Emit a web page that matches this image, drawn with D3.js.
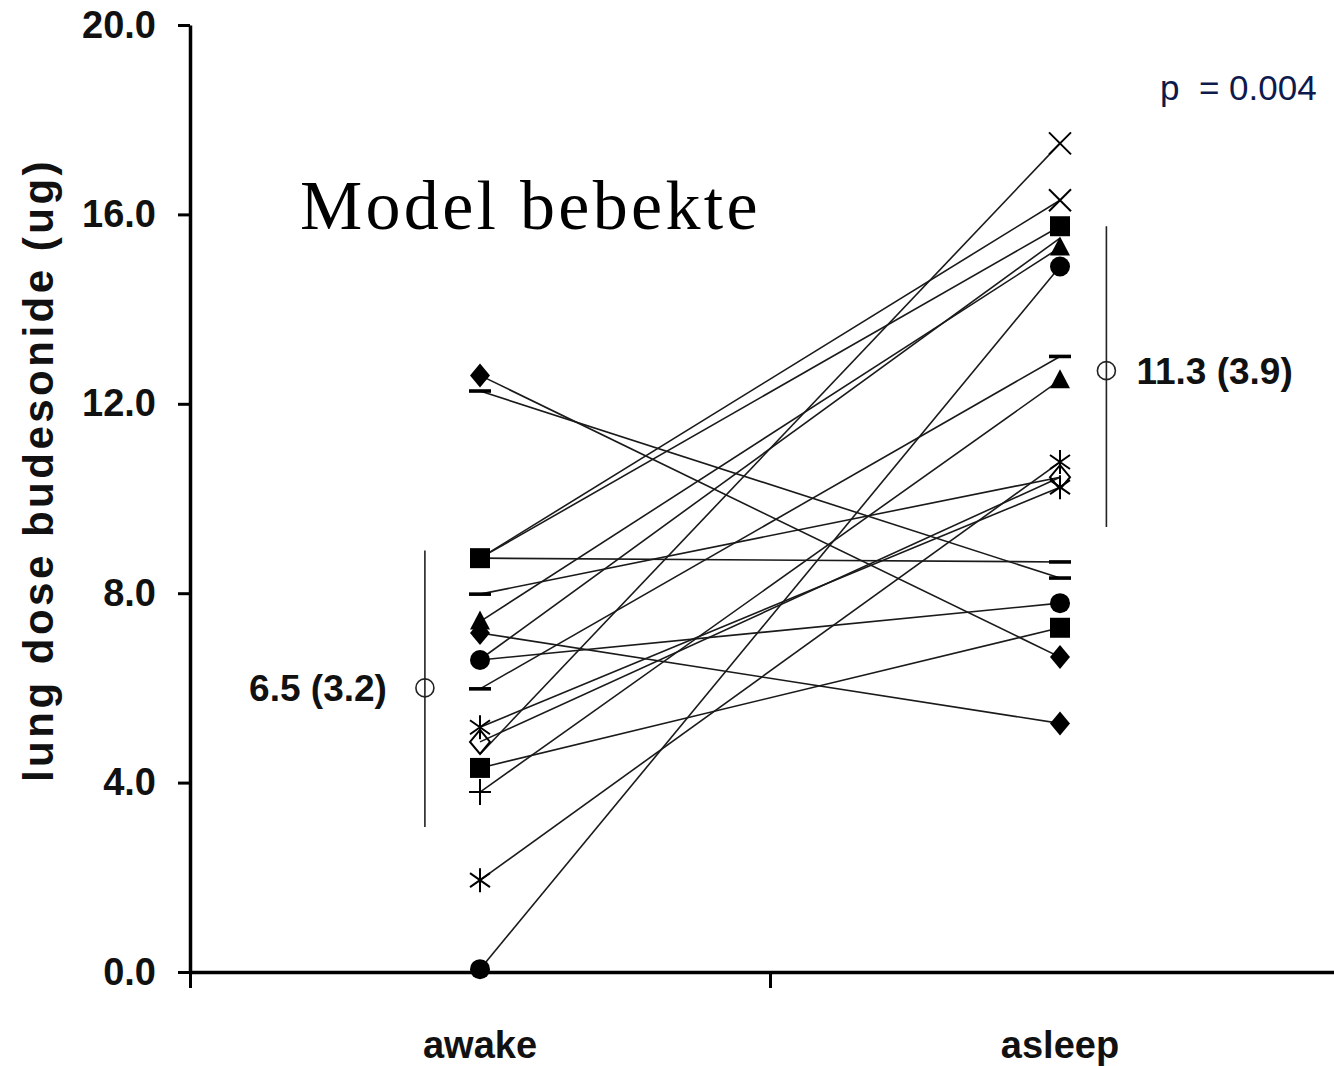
<!DOCTYPE html>
<html>
<head>
<meta charset="utf-8">
<script src="https://cdn.jsdelivr.net/npm/d3@7"></script>
<style>
  body { margin: 0; background: #fff; }
  svg { display: block; }
  text { font-family: "Liberation Sans", Arial, sans-serif; }
</style>
</head>
<body>
<div id="chart"></div>
<script>
const width = 1334;
const height = 1066;

// conditions on the x axis
const conditions = ['awake', 'asleep'];

// one entry per subject: value awake, value asleep, and the marker drawn at each end
const awakeVals  = [12.6, 12.27, 8.74, 8.74, 8.74, 7.98, 7.4, 7.16, 6.59, 6.6, 5.98, 5.17, 4.86, 4.6, 4.31, 3.8, 1.94, 0.06];
const asleepVals = [6.65, 8.32, 15.75, 16.3, 8.66, 10.45, 15.3, 5.25, 7.79, 15.5, 13.0, 10.24, 10.45, 17.5, 7.27, 12.5, 10.77, 14.9];
const awakeSym   = ['diamond', 'dash', 'square', 'none', 'none', 'dash', 'triangle', 'diamond', 'circle', 'none', 'dash', 'asterisk', 'odiamond', 'none', 'square', 'plus', 'asterisk', 'circle'];
const asleepSym  = ['diamond', 'dash', 'square', 'cross', 'dash', 'none', 'triangle', 'diamond', 'circle', 'none', 'dash', 'asterisk', 'odiamond', 'cross', 'square', 'triangle', 'asterisk', 'circle'];

// group means with spread bars
const meanVals   = [6.0, 12.7];
const errLow     = [3.06, 9.4];
const errHigh    = [8.9, 15.75];
const meanLabels = ['6.5 (3.2)', '11.3 (3.9)'];

const yTicks = [0, 4, 8, 12, 16, 20];

const x = d3.scaleLinear().domain([0, 4]).range([190, 1350]);
const y = d3.scaleLinear().domain([0, 20]).range([972, 25]);

const condPos = [1, 3];
const meanPos = [0.81, 3.16];

const svg = d3.select('#chart')
    .append('svg')
    .attr('width', width)
    .attr('height', height);

// subject lines
const subjects = awakeVals.map((v, i) => ({ a: v, b: asleepVals[i], sa: awakeSym[i], sb: asleepSym[i] }));

svg.append('g')
    .selectAll('line')
    .data(subjects)
    .join('line')
    .attr('x1', x(condPos[0]))
    .attr('y1', d => y(d.a))
    .attr('x2', x(condPos[1]))
    .attr('y2', d => y(d.b))
    .attr('stroke', '#1a1a1a')
    .attr('stroke-width', 1.6);

// axes
const yAxis = d3.axisLeft(y)
    .tickValues(yTicks)
    .tickFormat(d3.format('.1f'))
    .tickSize(12)
    .tickSizeOuter(0)
    .tickPadding(22);

const gy = svg.append('g')
    .attr('transform', `translate(${x(0)},0)`)
    .call(yAxis);
gy.select('.domain').attr('stroke-width', 3.5);
gy.selectAll('.tick line').attr('stroke-width', 3);
gy.selectAll('.tick text')
    .style('font-size', '38px')
    .style('font-weight', 'bold')
    .attr('fill', '#111');

const xAxis = d3.axisBottom(x)
    .tickValues([0, 2])
    .tickFormat('')
    .tickSize(16)
    .tickSizeOuter(0);

const gx = svg.append('g')
    .attr('transform', `translate(0,${y(0)})`)
    .call(xAxis);
gx.select('.domain').attr('stroke-width', 3.5);
gx.selectAll('.tick line').attr('stroke-width', 3);

svg.append('text')
    .attr('transform', 'translate(53,470) rotate(-90)')
    .attr('text-anchor', 'middle')
    .style('font-size', '42px')
    .style('font-weight', 'bold')
    .style('letter-spacing', '3.5px')
    .attr('fill', '#111')
    .text('lung dose budesonide (ug)');

svg.append('g')
    .selectAll('text')
    .data(conditions)
    .join('text')
    .attr('x', (d, i) => x(condPos[i]))
    .attr('y', 1058)
    .attr('text-anchor', 'middle')
    .style('font-size', '38px')
    .style('font-weight', 'bold')
    .attr('fill', '#111')
    .text(d => d);

// markers
function symbolPath(type) {
    switch (type) {
        case 'square':   return 'M-10,-10h20v20h-20z';
        case 'circle':   return 'M-10,0a10,10 0 1,0 20,0a10,10 0 1,0 -20,0z';
        case 'diamond':
        case 'odiamond': return 'M0,-12L10,0L0,12L-10,0z';
        case 'triangle': return 'M0,-11L10,8L-10,8z';
        case 'dash':     return 'M-11,-1.8h22v3.6h-22z';
        case 'asterisk': return 'M0,-12V12M-10,-7L10,7M-10,7L10,-7';
        case 'cross':    return 'M-11,-11L11,11M-11,11L11,-11';
        case 'plus':     return 'M-11,0H11M0,-13V13';
        default:         return '';
    }
}
const filled = ['square', 'circle', 'diamond', 'triangle', 'dash'];

function drawMarkers(vals, syms, pos) {
    svg.append('g')
        .selectAll('path')
        .data(vals.map((v, i) => ({ v: v, s: syms[i] })).filter(d => d.s !== 'none'))
        .join('path')
        .attr('transform', d => `translate(${x(pos)},${y(d.v)})`)
        .attr('d', d => symbolPath(d.s))
        .attr('fill', d => filled.includes(d.s) ? '#000' : 'none')
        .attr('stroke', d => filled.includes(d.s) ? 'none' : '#000')
        .attr('stroke-width', 2);
}
drawMarkers(awakeVals, awakeSym, condPos[0]);
drawMarkers(asleepVals, asleepSym, condPos[1]);

// means and spread
const means = svg.append('g');
means.selectAll('line')
    .data(meanVals)
    .join('line')
    .attr('x1', (d, i) => x(meanPos[i]))
    .attr('x2', (d, i) => x(meanPos[i]))
    .attr('y1', (d, i) => y(errLow[i]))
    .attr('y2', (d, i) => y(errHigh[i]))
    .attr('stroke', '#222')
    .attr('stroke-width', 1.6);
means.selectAll('circle')
    .data(meanVals)
    .join('circle')
    .attr('cx', (d, i) => x(meanPos[i]))
    .attr('cy', d => y(d))
    .attr('r', 9)
    .attr('fill', 'none')
    .attr('stroke', '#222')
    .attr('stroke-width', 1.6);
means.selectAll('text')
    .data(meanLabels)
    .join('text')
    .attr('x', (d, i) => i === 0 ? x(meanPos[i]) - 38 : x(meanPos[i]) + 30)
    .attr('y', (d, i) => y(meanVals[i]) + 13)
    .attr('text-anchor', (d, i) => i === 0 ? 'end' : 'start')
    .style('font-size', '37px')
    .style('font-weight', 'bold')
    .attr('fill', '#111')
    .text(d => d);

// annotations
svg.append('text')
    .attr('x', 300)
    .attr('y', 229)
    .style('font-family', '"Liberation Serif", "Times New Roman", serif')
    .style('font-size', '70px')
    .style('letter-spacing', '3.3px')
    .attr('fill', '#000')
    .text('Model bebekte');

svg.append('text')
    .attr('x', 1160)
    .attr('y', 100)
    .style('font-size', '35px')
    .style('white-space', 'pre')
    .attr('fill', '#0d1a4d')
    .text('p  = 0.004');
</script>
</body>
</html>
